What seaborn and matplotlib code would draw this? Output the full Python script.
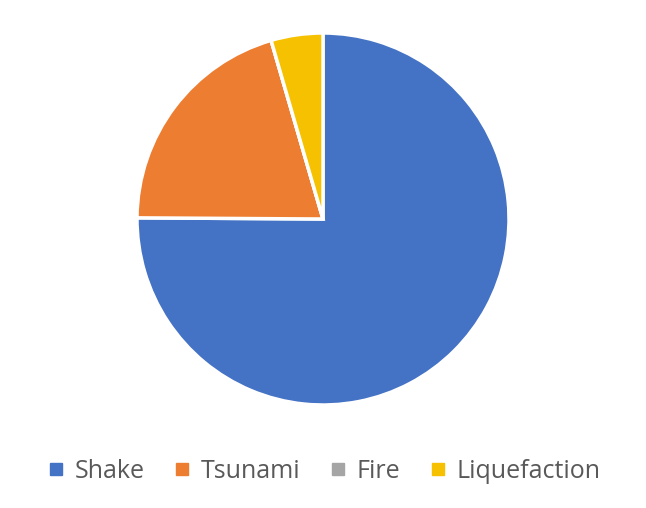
import matplotlib
matplotlib.use("Agg")
import matplotlib.pyplot as plt
import seaborn as sns
from matplotlib.lines import Line2D

sns.set_theme(style="white")
plt.rcParams["font.family"] = ["Open Sans", "DejaVu Sans"]

causes = ["Shake", "Tsunami", "Fire", "Liquefaction"]
shares = [75.1, 20.4, 0.0, 4.5]
colors = ["#4472C4", "#ED7D31", "#A5A5A5", "#F5C100"]

fig = plt.figure(figsize=(6.46, 5.08), dpi=100)
ax = fig.add_axes([137 / 646, 103 / 508, 372 / 646, 372 / 508])
ax.pie(
    shares,
    colors=colors,
    startangle=90,
    counterclock=False,
    wedgeprops={"edgecolor": "white", "linewidth": 2.5},
)
ax.set_xlim(-1.0, 1.0)
ax.set_ylim(-1.0, 1.0)
ax.set_aspect("equal")
ax.axis("off")

handles = [
    Line2D([], [], marker="s", linestyle="", markersize=8, color=c)
    for c in colors
]
fig.legend(
    handles,
    causes,
    loc="center",
    bbox_to_anchor=(0.5, 0.072),
    ncol=4,
    frameon=False,
    fontsize=18,
    labelcolor="#595959",
    handletextpad=0.35,
    columnspacing=1.1,
    handlelength=0.8,
)

fig.savefig("out.png", dpi=100)
